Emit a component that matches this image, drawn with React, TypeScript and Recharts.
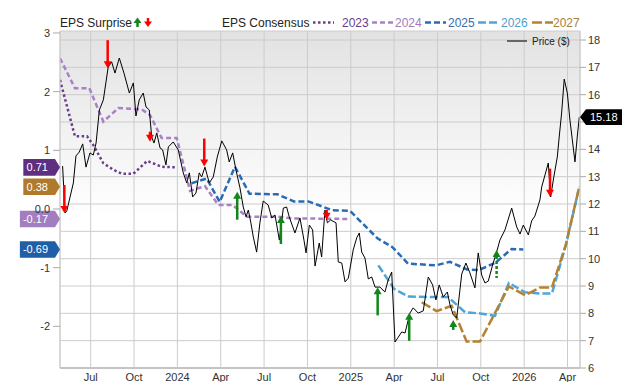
import React from 'react';
import { ComposedChart, Line, Scatter, XAxis, YAxis, CartesianGrid, ReferenceDot } from 'recharts';

const FONT = '"Liberation Sans", Arial, Helvetica, sans-serif';

// x values are decimal years
const quarterTicks = [2023.5, 2023.75, 2024, 2024.25, 2024.5, 2024.75, 2025, 2025.25, 2025.5, 2025.75, 2026, 2026.25];
const quarterLabels = ['Jul', 'Oct', '2024', 'Apr', 'Jul', 'Oct', '2025', 'Apr', 'Jul', 'Oct', '2026', 'Apr'];
const epsTicks = [-2, -1, 0, 1, 2, 3];
const priceTicks = [6, 7, 8, 9, 10, 11, 12, 13, 14, 15, 16, 17, 18];

const priceDates = [
  2023.338, 2023.352, 2023.362, 2023.400, 2023.415, 2023.434, 2023.454, 2023.473, 2023.496, 2023.515,
  2023.531, 2023.550, 2023.573, 2023.601, 2023.621, 2023.640, 2023.665, 2023.692, 2023.723, 2023.746,
  2023.761, 2023.780, 2023.803, 2023.819, 2023.838, 2023.852, 2023.865, 2023.881, 2023.900, 2023.915,
  2023.934, 2023.948, 2023.976, 2024.005, 2024.034, 2024.054, 2024.069, 2024.088, 2024.107, 2024.126,
  2024.140, 2024.159, 2024.184, 2024.207, 2024.230, 2024.256, 2024.284, 2024.299, 2024.319, 2024.338,
  2024.361, 2024.380, 2024.396, 2024.409, 2024.423, 2024.438, 2024.457, 2024.476, 2024.495, 2024.524,
  2024.544, 2024.563, 2024.588, 2024.611, 2024.630, 2024.645, 2024.678, 2024.707, 2024.730, 2024.742,
  2024.761, 2024.780, 2024.794, 2024.818, 2024.832, 2024.851, 2024.865, 2024.884, 2024.915, 2024.928,
  2024.948, 2024.967, 2024.986, 2025.014, 2025.034, 2025.049, 2025.063, 2025.082, 2025.101, 2025.121,
  2025.140, 2025.168, 2025.197, 2025.216, 2025.236, 2025.255, 2025.274, 2025.294, 2025.313, 2025.341,
  2025.360, 2025.389, 2025.418, 2025.447, 2025.472, 2025.491, 2025.510, 2025.533, 2025.557, 2025.572,
  2025.591, 2025.611, 2025.640, 2025.664, 2025.687, 2025.716, 2025.735, 2025.755, 2025.774, 2025.793,
  2025.818, 2025.841, 2025.860, 2025.889, 2025.928, 2025.957, 2025.976, 2025.995, 2026.024, 2026.043,
  2026.062, 2026.091, 2026.101, 2026.120, 2026.139, 2026.153, 2026.168, 2026.191, 2026.202, 2026.216,
  2026.231, 2026.249, 2026.264, 2026.293, 2026.306, 2026.318,
];
const priceValues = [
  13.39, 11.67, 11.74, 12.77, 13.76, 13.90, 14.20, 13.35, 13.87, 13.79,
  14.23, 15.44, 15.81, 17.01, 17.20, 16.79, 17.34, 16.79, 16.06, 16.43,
  15.22, 15.81, 16.06, 15.55, 15.44, 14.45, 14.23, 14.60, 14.05, 13.98,
  13.43, 14.09, 14.27, 13.98, 13.14, 12.77, 13.14, 12.26, 12.40, 13.14,
  12.99, 13.35, 12.77, 12.99, 13.72, 14.31, 13.98, 13.54, 13.87, 13.24,
  12.59, 11.89, 11.53, 11.78, 11.34, 10.79, 10.24, 11.31, 12.11, 11.96,
  11.49, 11.60, 10.68, 11.85, 11.89, 11.53, 10.94, 11.49, 10.68, 10.21,
  11.23, 11.05, 9.73, 10.57, 10.06, 11.78, 11.31, 11.42, 11.31, 9.88,
  9.84, 9.15, 9.29, 10.32, 10.76, 10.94, 10.24, 10.02, 9.26, 9.33,
  8.96, 8.96, 8.78, 9.22, 9.51, 6.95, 7.13, 7.32, 7.28, 8.01,
  8.20, 8.01, 8.09, 9.33, 9.04, 8.49, 9.04, 8.60, 8.78, 8.31,
  7.94, 7.83, 9.44, 9.84, 9.48, 8.93, 10.21, 9.40, 9.11, 9.18,
  9.77, 10.24, 10.68, 11.05, 11.85, 11.16, 10.90, 11.23, 10.87, 11.38,
  11.56, 12.15, 12.62, 13.06, 13.50, 12.26, 12.88, 13.72, 14.45, 15.33,
  16.57, 16.06, 15.07, 13.54, 14.45, 15.18,
];

// EPS consensus by fiscal year
const fy2023Dates = [2023.323, 2023.409, 2023.479, 2023.515, 2023.573, 2023.630, 2023.679, 2023.746, 2023.826, 2023.909, 2023.996];
const fy2023Eps = [2.20, 1.24, 1.24, 1.09, 0.78, 0.67, 0.60, 0.60, 0.82, 0.72, 0.71];
const fy2024Dates = [2023.323, 2023.409, 2023.492, 2023.573, 2023.659, 2023.794, 2023.842, 2023.909, 2023.996, 2024.073, 2024.159, 2024.236, 2024.318, 2024.400, 2024.573, 2024.668, 2024.995];
const fy2024Eps = [2.57, 2.06, 2.06, 1.49, 1.72, 1.70, 1.60, 1.21, 1.21, 0.31, 0.39, 0.07, 0.07, -0.13, -0.13, -0.16, -0.17];
const fy2025Dates = [2024.082, 2024.169, 2024.244, 2024.332, 2024.416, 2024.577, 2024.672, 2024.755, 2024.892, 2024.995, 2025.154, 2025.240, 2025.330, 2025.491, 2025.572, 2025.670, 2025.739, 2025.837, 2025.928, 2025.995];
const fy2025Eps = [0.44, 0.52, 0.12, 0.72, 0.26, 0.25, 0.13, 0.13, -0.02, -0.03, -0.50, -0.65, -0.93, -0.96, -0.90, -1.03, -1.04, -0.91, -0.68, -0.69];
const fy2026Dates = [2025.159, 2025.249, 2025.332, 2025.439, 2025.561, 2025.659, 2025.745, 2025.832, 2025.912, 2026.005, 2026.091, 2026.160, 2026.241, 2026.318];
const fy2026Eps = [-0.96, -1.36, -1.49, -1.50, -1.50, -1.76, -1.78, -1.82, -1.26, -1.42, -1.44, -1.44, -0.61, 0.38];
const fy2027Dates = [2025.409, 2025.495, 2025.582, 2025.668, 2025.745, 2025.912, 2026.005, 2026.091, 2026.160, 2026.241, 2026.318];
const fy2027Eps = [-1.59, -1.74, -1.65, -2.26, -2.26, -1.32, -1.47, -1.34, -1.34, -0.60, 0.38];

// EPS surprise markers (placed on the price line)
const surpriseDates = [2023.348, 2023.598, 2023.842, 2024.155, 2024.345, 2024.597, 2024.861, 2025.155, 2025.337, 2025.591, 2025.841, 2026.149];
const surprisePrices = [11.67, 16.97, 14.28, 13.37, 12.45, 11.56, 11.42, 8.95, 8.02, 7.76, 10.32, 12.27];
const surpriseBeat = [false, false, false, false, true, true, false, true, true, true, true, false];
const surpriseLarge = [true, true, false, true, true, true, false, true, true, false, true, true];
const surpriseEstimate = [false, false, false, false, false, false, false, false, false, false, true, false];

const X_MIN = 2023.323;
const X_MAX = 2026.322;

const zip = (dates: number[], vals: number[]) => dates.map((t, i) => ({ t, v: vals[i] }));
const last = (a: number[]) => a[a.length - 1];

const priceData = zip(priceDates, priceValues);
const lastPrice = last(priceValues);
const surpriseData = surpriseDates.map((t, i) => ({
  t,
  v: surprisePrices[i],
  beat: surpriseBeat[i],
  large: surpriseLarge[i],
  estimate: surpriseEstimate[i],
}));

const consensus = [
  { year: '2023', data: zip(fy2023Dates, fy2023Eps), color: '#6b3d8f', text: '#6b3d8f', dash: '2.5 2.5' },
  { year: '2024', data: zip(fy2024Dates, fy2024Eps), color: '#a881c6', text: '#a07bbd', dash: '5 3' },
  { year: '2025', data: zip(fy2025Dates, fy2025Eps), color: '#2a6cb4', text: '#3a6ea8', dash: '6 3' },
  { year: '2026', data: zip(fy2026Dates, fy2026Eps), color: '#4ea6d8', text: '#4c9ecb', dash: '8 3' },
  { year: '2027', data: zip(fy2027Dates, fy2027Eps), color: '#b5822f', text: '#a8803e', dash: '10 3' },
];

const leftBadges = [
  { value: last(fy2023Eps), fill: '#5e2f80' },
  { value: last(fy2027Eps), fill: '#b07a2c' },
  { value: last(fy2024Eps), fill: '#a27dc0' },
  { value: last(fy2025Eps), fill: '#1f5fa8' },
];

const textWidth = (s: string) => s.split('').reduce((w, c) => w + (c === '.' || c === '-' ? 3.4 : 6.1), 0);

const LeftBadge = (props: any) => {
  const { cx, cy, label, fill } = props;
  const h = 8.3;
  const textEnd = cx - 12;
  const left = textEnd - textWidth(label) - 3;
  const right = cx - 5;
  return (
    <g>
      <path d={`M${left},${cy - h}L${right},${cy - h}L${cx},${cy}L${right},${cy + h}L${left},${cy + h}Z`} fill={fill} />
      <text x={textEnd} y={cy + 4} textAnchor="end" fill="#fff" fontSize={11} fontFamily={FONT}>{label}</text>
    </g>
  );
};

const RightBadge = (props: any) => {
  const { cx, cy, label } = props;
  const h = 7.8;
  const body = cx + 6;
  const right = cx + 42;
  return (
    <g>
      <path d={`M${cx},${cy}L${body},${cy - h}L${right},${cy - h}L${right},${cy + h}L${body},${cy + h}Z`} fill="#000" />
      <text x={cx + 10} y={cy + 4} fill="#fff" fontSize={11} fontFamily={FONT}>{label}</text>
    </g>
  );
};

const SurpriseArrow = (props: any) => {
  const { cx, cy, payload } = props;
  const color = payload.beat ? '#12861a' : '#ff0000';
  const len = payload.large ? 28 : 10;
  const dir = payload.beat ? 1 : -1;
  const headH = 7;
  const headW = 4;
  const base = cy + dir * headH;
  return (
    <g>
      <line
        x1={cx}
        y1={base - dir}
        x2={cx}
        y2={cy + dir * len}
        stroke={color}
        strokeWidth={2.5}
        strokeDasharray={payload.estimate ? '3 2' : undefined}
      />
      <path d={`M${cx},${cy}L${cx - headW},${base}L${cx + headW},${base}Z`} fill={color} />
    </g>
  );
};

const Legends = () => (
  <svg width={640} height={382} style={{ position: 'absolute', left: 0, top: 0, pointerEvents: 'none' }}>
    <g fontFamily={FONT} fontSize={12}>
      <text x={60} y={27} fill="#222">EPS Surprise</text>
      <line x1={137.5} y1={27} x2={137.5} y2={22} stroke="#12861a" strokeWidth={2.5} />
      <path d="M137.5,17.5L133.5,23L141.5,23Z" fill="#12861a" />
      <line x1={148} y1={18} x2={148} y2={23} stroke="#ff0000" strokeWidth={2.5} />
      <path d="M148,27L144,21.5L152,21.5Z" fill="#ff0000" />
      <text x={222} y={27} fill="#222">EPS Consensus</text>
      {consensus.map((c, i) => {
        const x0 = [313, 372, 425, 478, 532][i];
        const tx = [342, 395, 448, 501, 553][i];
        return (
          <g key={c.year}>
            <line x1={x0} y1={22.5} x2={x0 + 21} y2={22.5} stroke={c.color} strokeWidth={2.5} strokeDasharray={c.dash} />
            <text x={tx} y={27} fill={c.text}>{c.year}</text>
          </g>
        );
      })}
      <line x1={507} y1={41} x2={527} y2={41} stroke="#666" strokeWidth={2} />
      <text x={532} y={44.5} fontSize={10} fill="#222">Price ($)</text>
    </g>
  </svg>
);

export default function App() {
  return (
    <div style={{ position: 'absolute', left: 0, top: 0, width: 640, height: 382, background: '#fff' }}>
      <ComposedChart width={640} height={382} margin={{ top: 31, right: 0, bottom: 0, left: 0 }}>
        <defs>
          <linearGradient id="plotBg" x1="0" y1="0" x2="0" y2="1">
            <stop offset="0" stopColor="#e2e2e2" />
            <stop offset="0.55" stopColor="#ffffff" />
          </linearGradient>
        </defs>
        <CartesianGrid yAxisId="price" stroke="#cccccc" fill="url(#plotBg)" fillOpacity={1} />
        <XAxis
          dataKey="t"
          type="number"
          domain={[X_MIN, X_MAX]}
          allowDataOverflow
          ticks={quarterTicks}
          tickFormatter={(v: number) => quarterLabels[quarterTicks.indexOf(v)] ?? ''}
          height={14}
          tickLine={false}
          tickSize={3}
          tickMargin={2}
          axisLine={{ stroke: '#c4c4c4', strokeWidth: 2 }}
          tick={{ fontSize: 11, fill: '#333', fontFamily: FONT }}
        />
        <YAxis
          yAxisId="eps"
          orientation="left"
          width={60}
          type="number"
          domain={[-2.71, 3.034]}
          allowDataOverflow
          ticks={epsTicks}
          tickFormatter={(v: number) => (v === 0 ? '0.0' : String(v))}
          tickSize={7}
          tickMargin={3}
          axisLine={{ stroke: '#cccccc' }}
          tickLine={{ stroke: '#aaaaaa' }}
          tick={{ fontSize: 11, fill: '#333', fontFamily: FONT }}
        />
        <YAxis
          yAxisId="price"
          orientation="right"
          width={60}
          type="number"
          domain={[6, 18.33]}
          allowDataOverflow
          ticks={priceTicks}
          // the current-price flag covers the tick label next to it
          tickFormatter={(v: number) => (Math.abs(v - lastPrice) < 0.5 ? '' : String(v))}
          tickSize={6}
          tickMargin={2}
          axisLine={{ stroke: '#cccccc' }}
          tickLine={{ stroke: '#aaaaaa' }}
          tick={{ fontSize: 11, fill: '#333', fontFamily: FONT }}
        />
        {consensus.map((c) => (
          <Line
            key={c.year}
            yAxisId="eps"
            data={c.data}
            dataKey="v"
            type="linear"
            stroke={c.color}
            strokeWidth={2.5}
            strokeDasharray={c.dash}
            dot={false}
            activeDot={false}
            isAnimationActive={false}
          />
        ))}
        <Line
          yAxisId="price"
          data={priceData}
          dataKey="v"
          type="linear"
          stroke="#000"
          strokeWidth={1}
          dot={false}
          activeDot={false}
          isAnimationActive={false}
        />
        <Scatter
          yAxisId="price"
          data={surpriseData}
          dataKey="v"
          shape={(p: any) => <SurpriseArrow {...p} />}
          isAnimationActive={false}
        />
        {leftBadges.map((b) => (
          <ReferenceDot
            key={b.fill}
            yAxisId="eps"
            x={X_MIN}
            y={b.value}
            ifOverflow="visible"
            shape={(p: any) => <LeftBadge {...p} label={b.value.toFixed(2)} fill={b.fill} />}
          />
        ))}
        <ReferenceDot
          yAxisId="price"
          x={X_MAX}
          y={lastPrice}
          ifOverflow="visible"
          shape={(p: any) => <RightBadge {...p} label={lastPrice.toFixed(2)} />}
        />
      </ComposedChart>
      <Legends />
    </div>
  );
}
